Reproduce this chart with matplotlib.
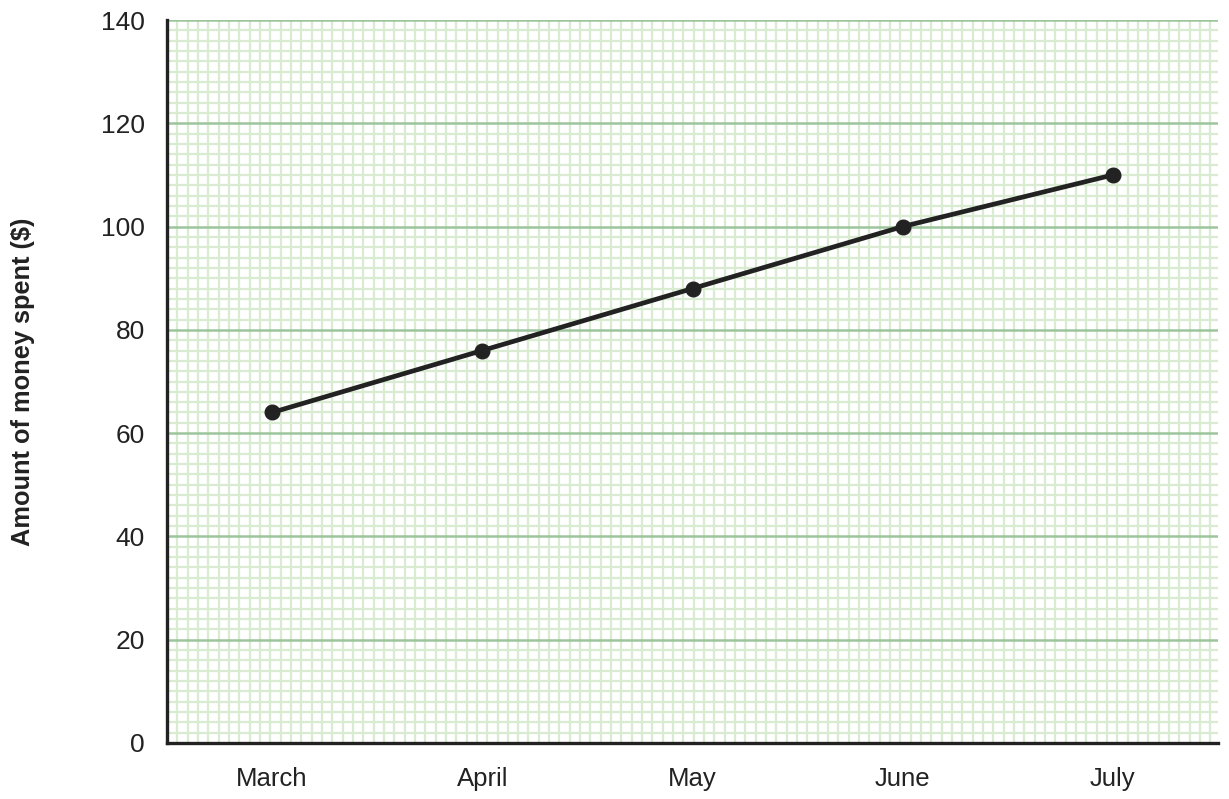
import matplotlib
matplotlib.use("Agg")
import matplotlib.pyplot as plt
import numpy as np

months = ["March", "April", "May", "June", "July"]
spent = [64, 76, 88, 100, 110]
y_major = [0, 20, 40, 60, 80, 100, 120, 140]

plt.rcParams['font.family'] = ['Liberation Sans', 'DejaVu Sans']

fig = plt.figure(figsize=(12.29, 7.99), dpi=100)
ax = fig.add_axes([167 / 1229, 56 / 799, 1051 / 1229, 723 / 799])

x = np.arange(len(months))
ax.set_xlim(-0.5, len(months) - 0.5)
ax.set_ylim(0, 140)

# graph paper: square minor cells of 2 units in y
px_per_y = 723 / 140
px_per_x = 1051 / len(months)
x_step = 2 * px_per_y / px_per_x
ax.set_xticks(np.arange(-0.5, len(months) - 0.5 + 1e-6, x_step), minor=True)
ax.set_yticks(np.arange(0, 141, 2), minor=True)
ax.grid(True, which='minor', color='#d9ebd0', linewidth=1.6)
ax.set_axisbelow(True)
ax.hlines(y_major, -0.5, len(months) - 0.5, color='#9dc59d', linewidth=1.8, zorder=1)

ax.plot(x, spent, color='#222222', linewidth=3.4, marker='o', markersize=10.5, zorder=3)

ax.set_xticks(x)
ax.set_xticklabels(months, fontsize=18.5)
ax.set_yticks(y_major)
ax.set_yticklabels([str(v) for v in y_major], fontsize=19)
ax.tick_params(which='both', length=0)
ax.tick_params(axis='y', pad=16, colors='#222222')
ax.tick_params(axis='x', pad=17, colors='#222222')

ax.set_ylabel("Amount of money spent ($)", fontsize=18.3, fontweight='bold', color='#222222', labelpad=47)

for s in ['top', 'right']:
    ax.spines[s].set_visible(False)
for s in ['left', 'bottom']:
    ax.spines[s].set_color('#222222')
    ax.spines[s].set_linewidth(2.4)
    ax.spines[s].set_zorder(4)

fig.savefig("out.png", dpi=100)
